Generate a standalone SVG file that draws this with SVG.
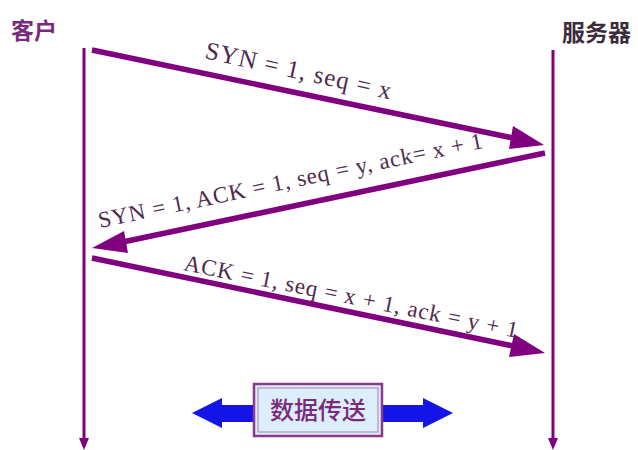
<svg xmlns="http://www.w3.org/2000/svg" width="638" height="450" viewBox="0 0 638 450">
<defs>
<style>
.life{stroke:#800080;stroke-width:3;fill:none}
.msg{stroke:#800080;stroke-width:5.5;fill:none}
.head{fill:#800080}
.lbl{font-family:"Liberation Serif","Times New Roman",serif;font-size:23px;fill:#4d2a4d}
.actor{font-family:"Noto Sans CJK SC","Noto Sans",sans-serif;font-size:23px;font-weight:bold}
</style>
</defs>
<rect width="638" height="450" fill="#ffffff"/>
<g id="client">
<text class="actor" x="11" y="39" fill="#7a2a7a">客户</text>
</g>
<g id="server">
<text class="actor" x="562" y="41" fill="#3c2c3c">服务器</text>
</g>
<g id="connectors">
<line class="life" x1="84" y1="48" x2="84" y2="440"/>
<polygon class="head" points="79,438 89,438 84,450"/>
<line class="life" x1="553" y1="50" x2="553" y2="440"/>
<polygon class="head" points="548,438 558,438 553,450"/>
<line class="msg" x1="92" y1="50" x2="518" y2="139"/>
<polygon class="head" points="544,145 513,126 509,149"/>
<line class="msg" x1="545" y1="153" x2="118" y2="243"/>
<polygon class="head" points="92,248 124,231 128,253"/>
<line class="msg" x1="92" y1="258" x2="518" y2="347"/>
<polygon class="head" points="545,353 514,334 509,357"/>
</g>
<g id="label1">
<text class="lbl" style="font-size:25px" transform="translate(204,58) rotate(12.5)" textLength="190" lengthAdjust="spacing">SYN = 1, seq = x</text>
</g>
<g id="label2">
<text class="lbl" transform="translate(100,228) rotate(-11.8)" textLength="392" lengthAdjust="spacing">SYN = 1, ACK = 1, seq = y, ack= x + 1</text>
</g>
<g id="label3">
<text class="lbl" transform="translate(183,270) rotate(11.5)" textLength="340" lengthAdjust="spacing">ACK = 1, seq = x + 1, ack = y + 1</text>
</g>
<g id="data">
<polygon fill="#1414e6" points="192,413 222,398 222,405 423,405 423,398 453,413 423,428 423,422 222,422 222,428"/>
<rect x="254" y="384" width="128" height="52" fill="#dceefa" stroke="#8a3a8a" stroke-width="2.5"/>
<rect x="258" y="388" width="120" height="44" fill="none" stroke="#b07ab0" stroke-width="1"/>
<text x="318" y="419" text-anchor="middle" font-family="Noto Sans CJK SC, sans-serif" font-size="24" font-weight="500" fill="#7a2a7a">数据传送</text>
</g>
</svg>
